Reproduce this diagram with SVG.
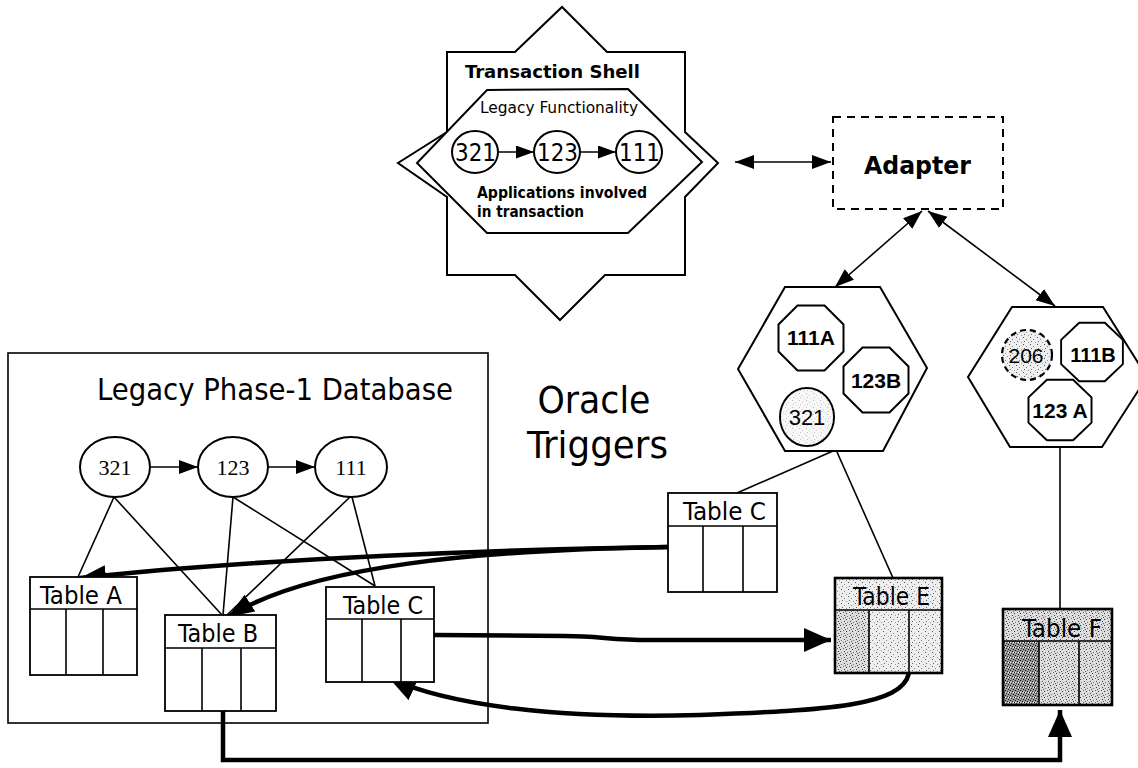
<svg xmlns="http://www.w3.org/2000/svg" width="1138" height="768" viewBox="0 0 1138 768">
<style>
  .ln{fill:none;stroke:#000;stroke-width:1.6}
  .thick{fill:none;stroke:#000;stroke-width:4.5}
  .shape{fill:#fff;stroke:#000;stroke-width:2}
  .tbl{fill:#fff;stroke:#000;stroke-width:1.8}
  .tblS{stroke:#000;stroke-width:2.6}
  .t{font-family:"DejaVu Sans Condensed","DejaVu Sans",sans-serif;fill:#000}
  .b{font-family:"DejaVu Sans Condensed","DejaVu Sans",sans-serif;font-weight:bold;fill:#000}
  .a{font-family:"Liberation Sans",Arial,sans-serif;fill:#000}
  .ab{font-family:"Liberation Sans",Arial,sans-serif;font-weight:bold;fill:#000}
  .s{font-family:"Liberation Serif","Times New Roman",serif;fill:#000}
</style>
<defs>
  <marker id="ah" markerUnits="userSpaceOnUse" markerWidth="20" markerHeight="16" refX="19" refY="7" orient="auto-start-reverse">
    <path d="M0,0 L19,7 L0,14 z" fill="#000"/>
  </marker>
  <marker id="ahs" markerUnits="userSpaceOnUse" markerWidth="20" markerHeight="14" refX="18" refY="6.5" orient="auto-start-reverse">
    <path d="M0,0 L18,6.5 L0,13 z" fill="#000"/>
  </marker>
  <marker id="ahb" markerUnits="userSpaceOnUse" markerWidth="30" markerHeight="28" refX="27" refY="12" orient="auto">
    <path d="M0,0 L27,12 L0,24 z" fill="#000"/>
  </marker>
  <marker id="ahm" markerUnits="userSpaceOnUse" markerWidth="30" markerHeight="22" refX="26" refY="10" orient="auto">
    <path d="M0,0 L26,10 L0,20 z" fill="#000"/>
  </marker>
  <pattern id="speckL" width="7" height="7" patternUnits="userSpaceOnUse">
    <rect width="7" height="7" fill="#eeeeee"/>
    <rect x="1" y="1" width="1" height="1" fill="#555"/>
    <rect x="4" y="3" width="1" height="1" fill="#888"/>
    <rect x="2" y="5" width="1" height="1" fill="#666"/>
    <rect x="6" y="6" width="1" height="1" fill="#999"/>
  </pattern>
  <pattern id="speckM" width="6" height="6" patternUnits="userSpaceOnUse">
    <rect width="6" height="6" fill="#dddddd"/>
    <rect x="0" y="1" width="1" height="1" fill="#333"/>
    <rect x="3" y="0" width="1" height="1" fill="#666"/>
    <rect x="4" y="3" width="1" height="1" fill="#444"/>
    <rect x="1" y="4" width="1" height="1" fill="#777"/>
    <rect x="5" y="5" width="1" height="1" fill="#555"/>
  </pattern>
  <pattern id="speckD" width="5" height="5" patternUnits="userSpaceOnUse">
    <rect width="5" height="5" fill="#999"/>
    <rect x="0" y="0" width="1" height="1" fill="#111"/>
    <rect x="2" y="1" width="1" height="1" fill="#222"/>
    <rect x="4" y="2" width="1" height="1" fill="#000"/>
    <rect x="1" y="3" width="1" height="1" fill="#333"/>
    <rect x="3" y="4" width="1" height="1" fill="#111"/>
    <rect x="0" y="2" width="1" height="1" fill="#eee"/>
    <rect x="3" y="2" width="1" height="1" fill="#fff"/>
  </pattern>
  <polygon id="oct" points="-13.5,-32.5 13.5,-32.5 32.5,-13.5 32.5,13.5 13.5,32.5 -13.5,32.5 -32.5,13.5 -32.5,-13.5"/>
</defs>
<rect width="1138" height="768" fill="#fff"/>

<g id="transaction-shell">
  <polygon class="shape" points="447,52 515,52 562,7 607,52 685,52 685,132 718,163 685,197 685,275 605,275 560,320 515,275 447,275 447,197 398,163 447,132"/>
  <polygon class="shape" stroke-width="1.6" points="487,90 628,89 702,162 628,233 487,233 417,163"/>
  <text class="b" x="465" y="78" font-size="18" textLength="175" lengthAdjust="spacingAndGlyphs">Transaction Shell</text>
  <text class="t" x="480" y="113" font-size="16" fill="#222" textLength="158" lengthAdjust="spacingAndGlyphs">Legacy Functionality</text>
  <text class="b" x="477" y="198" font-size="15" textLength="170" lengthAdjust="spacingAndGlyphs">Applications involved</text>
  <text class="b" x="477" y="217" font-size="15" textLength="107" lengthAdjust="spacingAndGlyphs">in transaction</text>
</g>
<g id="shell-321">
  <ellipse class="shape" stroke-width="1.8" cx="475" cy="152" rx="23" ry="21"/>
  <text class="t" x="455" y="161" font-size="24" textLength="41" lengthAdjust="spacingAndGlyphs">321</text>
</g>
<g id="shell-123">
  <ellipse class="shape" stroke-width="1.8" cx="557" cy="152" rx="23" ry="21"/>
  <text class="t" x="537" y="161" font-size="24" textLength="41" lengthAdjust="spacingAndGlyphs">123</text>
</g>
<g id="shell-111">
  <ellipse class="shape" stroke-width="1.8" cx="639" cy="152" rx="23" ry="21"/>
  <text class="t" x="619" y="161" font-size="24" textLength="41" lengthAdjust="spacingAndGlyphs">111</text>
</g>

<g id="adapter">
  <rect x="833" y="117" width="170" height="92" fill="#fff" stroke="#000" stroke-width="2" stroke-dasharray="8 6"/>
  <text class="b" x="864" y="174" font-size="25" textLength="107" lengthAdjust="spacingAndGlyphs">Adapter</text>
</g>

<g id="hex-middle">
  <polygon class="shape" points="785,287 880,287 927,368 883,451 785,451 738,369"/>
  <use href="#oct" x="811" y="338" class="shape"/>
  <text class="ab" x="811" y="345" font-size="21" text-anchor="middle">111A</text>
  <use href="#oct" x="876" y="380" class="shape"/>
  <text class="ab" x="876" y="388" font-size="21" text-anchor="middle">123B</text>
  <ellipse cx="807" cy="417" rx="27" ry="29" fill="url(#speckL)" stroke="#000" stroke-width="2"/>
  <ellipse cx="807" cy="417" rx="26" ry="28" fill="#fff" fill-opacity="0.6"/>
  <text class="a" x="807" y="425" font-size="22" text-anchor="middle">321</text>
</g>

<g id="hex-right">
  <polygon class="shape" points="1012,307 1103,307 1147,377 1102,447 1010,447 968,377"/>
  <circle cx="1027" cy="355" r="25" fill="url(#speckL)" stroke="#000" stroke-width="2.2" stroke-dasharray="6 4"/>
  <text class="a" x="1026" y="363" font-size="21" text-anchor="middle">206</text>
  <use href="#oct" x="1092" y="352" class="shape" transform="translate(1092 352) scale(0.95 0.9) translate(-1092 -352)"/>
  <text class="ab" x="1093" y="362" font-size="20" text-anchor="middle">111B</text>
  <use href="#oct" x="1060" y="410" class="shape" transform="translate(1060 410) scale(0.97 0.93) translate(-1060 -410)"/>
  <text class="ab" x="1060" y="418" font-size="21" text-anchor="middle">123 A</text>
</g>

<g id="legacy-db">
  <rect x="8" y="353" width="480" height="370" fill="#fff" stroke="#000" stroke-width="1.6"/>
  <text class="t" x="97" y="400" font-size="31" textLength="356" lengthAdjust="spacingAndGlyphs">Legacy Phase-1 Database</text>
</g>

<g id="oracle-triggers">
  <text class="t" x="594" y="413" font-size="38" text-anchor="middle" textLength="113" lengthAdjust="spacingAndGlyphs">Oracle</text>
  <text class="t" x="527" y="458" font-size="38" textLength="141" lengthAdjust="spacingAndGlyphs">Triggers</text>
</g>

<g id="db-321">
  <ellipse class="shape" stroke-width="1.6" cx="115" cy="467" rx="35" ry="30"/>
  <text class="s" x="115" y="475" font-size="22" text-anchor="middle">321</text>
</g>
<g id="db-123">
  <ellipse class="shape" stroke-width="1.6" cx="233" cy="467" rx="35" ry="30"/>
  <text class="s" x="233" y="475" font-size="22" text-anchor="middle">123</text>
</g>
<g id="db-111">
  <ellipse class="shape" stroke-width="1.6" cx="351" cy="467" rx="36" ry="30"/>
  <text class="s" x="351" y="475" font-size="22" text-anchor="middle">111</text>
</g>

<g id="connectors">
  <line class="ln" x1="498" y1="152" x2="534" y2="152" marker-end="url(#ahs)"/>
  <line class="ln" x1="580" y1="152" x2="616" y2="152" marker-end="url(#ahs)"/>
  <line class="ln" x1="735" y1="162" x2="831" y2="162" marker-start="url(#ah)" marker-end="url(#ah)"/>
  <line class="ln" x1="922" y1="211" x2="835" y2="287" marker-start="url(#ah)" marker-end="url(#ah)"/>
  <line class="ln" x1="928" y1="211" x2="1055" y2="306" marker-start="url(#ah)" marker-end="url(#ah)"/>
  <line class="ln" x1="150" y1="467" x2="198" y2="467" marker-end="url(#ah)"/>
  <line class="ln" x1="268" y1="467" x2="315" y2="467" marker-end="url(#ah)"/>
  <line class="ln" x1="114" y1="497" x2="78" y2="577"/>
  <line class="ln" x1="114" y1="497" x2="222" y2="615"/>
  <line class="ln" x1="233" y1="497" x2="223" y2="615"/>
  <line class="ln" x1="233" y1="497" x2="375" y2="586"/>
  <line class="ln" x1="350" y1="497" x2="227" y2="615"/>
  <line class="ln" x1="352" y1="497" x2="375" y2="586"/>
  <line class="ln" x1="737" y1="493" x2="833" y2="451"/>
  <line class="ln" x1="837" y1="452" x2="893" y2="578"/>
  <line class="ln" x1="1060" y1="447" x2="1060" y2="609"/>
  <path class="thick" d="M668,547 C520,549 260,558 80,578" marker-end="url(#ahm)"/>
  <path class="thick" d="M668,547 C480,550 310,565 228,617" marker-end="url(#ahm)"/>
  <path class="thick" d="M434,635 L565,636 C600,636 610,640 650,640 L831,640" marker-end="url(#ahb)"/>
  <path class="thick" d="M909,673 C902,706 830,710 700,715 C560,719 450,706 389,678" marker-end="url(#ahb)"/>
  <path class="thick" d="M223,711 L223,760 L1060,760 L1060,710" marker-end="url(#ahb)"/>
</g>

<g id="table-a">
  <rect class="tbl" x="30" y="577" width="107" height="98"/>
  <path class="ln" d="M30,609 H137 M66,609 V675 M103,609 V675"/>
  <text class="t" x="40" y="604" font-size="25" textLength="82" lengthAdjust="spacingAndGlyphs">Table A</text>
</g>
<g id="table-b">
  <rect class="tbl" x="165" y="615" width="111" height="96"/>
  <path class="ln" d="M165,648 H276 M202,648 V711 M241,648 V711"/>
  <text class="t" x="178" y="642" font-size="25" textLength="80" lengthAdjust="spacingAndGlyphs">Table B</text>
</g>
<g id="table-c-left">
  <rect class="tbl" x="326" y="587" width="108" height="95"/>
  <path class="ln" d="M326,619 H434 M362,619 V682 M401,619 V682"/>
  <text class="t" x="343" y="614" font-size="25" textLength="80" lengthAdjust="spacingAndGlyphs">Table C</text>
</g>
<g id="table-c-upper">
  <rect class="tbl" x="668" y="493" width="109" height="99"/>
  <path class="ln" d="M668,526 H777 M703,526 V592 M743,526 V592"/>
  <text class="t" x="683" y="520" font-size="25" textLength="83" lengthAdjust="spacingAndGlyphs">Table C</text>
</g>
<g id="table-e">
  <rect x="835" y="578" width="107" height="32" fill="url(#speckL)"/>
  <rect x="835" y="610" width="34" height="63" fill="url(#speckM)"/>
  <rect x="869" y="610" width="40" height="63" fill="url(#speckL)"/>
  <rect x="909" y="610" width="33" height="63" fill="url(#speckL)"/>
  <rect x="835" y="578" width="107" height="95" fill="none" class="tblS"/>
  <path class="ln" stroke-width="2" d="M835,610 H942 M869,610 V673 M909,610 V673"/>
  <text class="t" x="853" y="605" font-size="25" textLength="77" lengthAdjust="spacingAndGlyphs">Table E</text>
</g>
<g id="table-f">
  <rect x="1003" y="609" width="109" height="32" fill="url(#speckM)"/>
  <rect x="1003" y="641" width="36" height="64" fill="url(#speckD)"/>
  <rect x="1039" y="641" width="40" height="64" fill="url(#speckM)"/>
  <rect x="1079" y="641" width="33" height="64" fill="url(#speckM)"/>
  <rect x="1003" y="609" width="109" height="96" fill="none" class="tblS" stroke-width="3"/>
  <path class="ln" stroke-width="2" d="M1003,641 H1112 M1039,641 V705 M1079,641 V705"/>
  <text class="t" x="1022" y="637" font-size="25" textLength="80" lengthAdjust="spacingAndGlyphs">Table F</text>
</g>
</svg>
